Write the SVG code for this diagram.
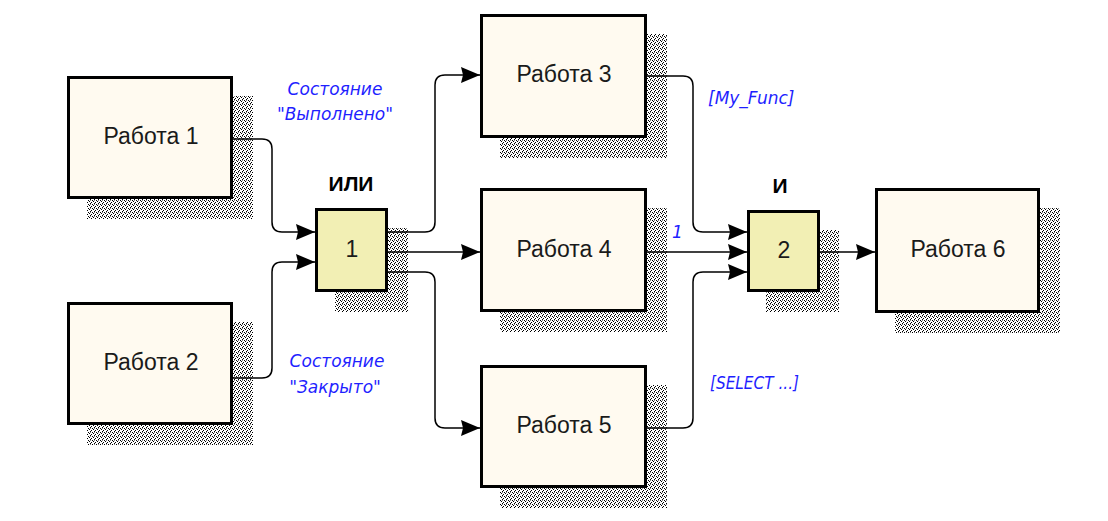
<svg xmlns="http://www.w3.org/2000/svg" width="1108" height="521" viewBox="0 0 1108 521">
  <defs>
    <pattern id="hatch" width="4" height="4" patternUnits="userSpaceOnUse">
      <rect x="0" y="0" width="1" height="1" fill="#000"/>
      <rect x="1" y="1" width="1" height="1" fill="#000"/>
      <rect x="3" y="2" width="1" height="1" fill="#000"/>
      <rect x="2" y="3" width="1" height="1" fill="#000"/>
      <rect x="2" y="0" width="1" height="1" fill="#888"/>
    </pattern>
    <marker id="arr" markerUnits="userSpaceOnUse" markerWidth="19" markerHeight="16" refX="19" refY="8" orient="auto">
      <path d="M0,0 L19,8 L0,16 L2,8 Z" fill="#000"/>
    </marker>
    <style>
      .shadow { fill: url(#hatch); }
      .box { fill: #fffaf0; stroke: #000; stroke-width: 3; }
      .gate { fill: #f2efb4; stroke: #000; stroke-width: 3; }
      .lbl { font-family: "Liberation Sans", Arial, sans-serif; font-size: 23px; fill: #1a1a1a; text-anchor: middle; }
      .gl { font-family: "Liberation Sans", Arial, sans-serif; font-size: 21px; font-weight: bold; fill: #000; text-anchor: middle; }
      .note { font-family: "DejaVu Sans", sans-serif; font-style: italic; font-size: 17px; fill: #1f1fff; text-anchor: middle; }
      .note2 { font-family: "DejaVu Sans", sans-serif; font-style: italic; font-size: 17px; fill: #1f1fff; }
      .conn path { fill: none; stroke: #000; stroke-width: 1.5; marker-end: url(#arr); }
    </style>
  </defs>
  <rect width="1108" height="521" fill="#fff"/>

  <g id="shadows">
    <rect class="shadow" x="87" y="96" width="166" height="123"/>
    <rect class="shadow" x="87" y="322" width="166" height="123"/>
    <rect class="shadow" x="500" y="34" width="167" height="124"/>
    <rect class="shadow" x="500" y="208" width="167" height="124"/>
    <rect class="shadow" x="500" y="385" width="167" height="123"/>
    <rect class="shadow" x="895" y="208" width="165" height="125"/>
    <rect class="shadow" x="335" y="228" width="73" height="84"/>
    <rect class="shadow" x="766" y="230" width="73" height="82"/>
  </g>

  <g id="connectors" class="conn">
    <path d="M233,139 H262 Q272,139 272,149 V222 Q272,232 282,232 H315"/>
    <path d="M233,378 H262 Q272,378 272,368 V272 Q272,262 282,262 H315"/>
    <path d="M388,232 H425 Q435,232 435,222 V85 Q435,75 445,75 H480"/>
    <path d="M388,252 H480"/>
    <path d="M388,272 H425 Q435,272 435,282 V418 Q435,428 445,428 H480"/>
    <path d="M645,76 H683 Q693,76 693,86 V222 Q693,232 703,232 H747"/>
    <path d="M645,252 H747"/>
    <path d="M645,428 H683 Q693,428 693,418 V282 Q693,272 703,272 H747"/>
    <path d="M820,252 H875"/>
  </g>

  <g id="job1">
    <rect class="box" x="68.5" y="77.5" width="163" height="120"/>
    <text class="lbl" x="151" y="144">Работа 1</text>
  </g>
  <g id="job2">
    <rect class="box" x="68.5" y="303.5" width="163" height="120"/>
    <text class="lbl" x="151" y="370">Работа 2</text>
  </g>
  <g id="job3">
    <rect class="box" x="481.5" y="15.5" width="164" height="121"/>
    <text class="lbl" x="564" y="82">Работа 3</text>
  </g>
  <g id="job4">
    <rect class="box" x="481.5" y="189.5" width="164" height="121"/>
    <text class="lbl" x="564" y="257">Работа 4</text>
  </g>
  <g id="job5">
    <rect class="box" x="481.5" y="366.5" width="164" height="120"/>
    <text class="lbl" x="564" y="433">Работа 5</text>
  </g>
  <g id="job6">
    <rect class="box" x="876.5" y="189.5" width="162" height="122"/>
    <text class="lbl" x="958" y="257">Работа 6</text>
  </g>
  <g id="gate1">
    <rect class="gate" x="316.5" y="209.5" width="70" height="81"/>
    <text class="lbl" x="352" y="257">1</text>
    <text class="gl" x="351" y="191">ИЛИ</text>
  </g>
  <g id="gate2">
    <rect class="gate" x="748.5" y="211.5" width="70" height="79"/>
    <text class="lbl" x="784" y="258">2</text>
    <text class="gl" x="780" y="193">И</text>
  </g>

  <g id="labels">
    <text class="note" x="335" y="95">Состояние</text>
    <text class="note" x="335" y="120">"Выполнено"</text>
    <text class="note" x="337" y="367">Состояние</text>
    <text class="note" x="335" y="393">"Закрыто"</text>
    <text class="note2" x="708" y="104">[My_Func]</text>
    <text class="note2" x="672" y="238">1</text>
    <text class="note2" x="710" y="389" textLength="89" lengthAdjust="spacingAndGlyphs">[SELECT ...]</text>
  </g>
</svg>
